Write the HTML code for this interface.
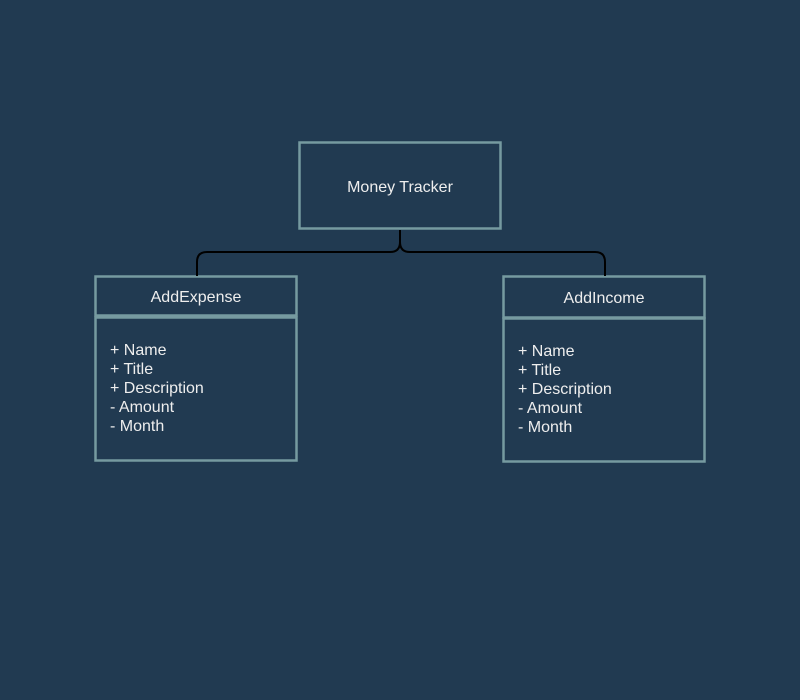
<!DOCTYPE html>
<html><head><style>html,body{margin:0;padding:0;background:#213a51;}svg{display:block}text{font-family:"Liberation Sans",Arial,sans-serif;}</style></head>
<body>
<svg width="800" height="700" xmlns="http://www.w3.org/2000/svg">
<rect x="0" y="0" width="800" height="700" fill="#213a51"/>
<g fill="none" stroke="#769aa0" stroke-width="2.5">
<rect x="299.5" y="142.5" width="201" height="86"/>
<rect x="95.5" y="276.5" width="201" height="39"/>
<rect x="95.5" y="317.5" width="201" height="143"/>
<rect x="503.5" y="276.5" width="201" height="41"/>
<rect x="503.5" y="318.5" width="201" height="143"/>
</g>
<path d="M400 230 V242 Q400 252 390 252 H207 Q197 252 197 262 V276 M400 242 Q400 252 410 252 H595 Q605 252 605 262 V276" fill="none" stroke="#000" stroke-width="2"/>
<g font-size="16" fill="#eeeeee">
<text x="400" y="192" text-anchor="middle">Money Tracker</text>
<text x="196" y="302" text-anchor="middle">AddExpense</text>
<text x="604" y="303" text-anchor="middle">AddIncome</text>
<text x="110" y="355">+ Name</text>
<text x="110" y="374">+ Title</text>
<text x="110" y="393">+ Description</text>
<text x="110" y="412">- Amount</text>
<text x="110" y="431">- Month</text>
<text x="518" y="356">+ Name</text>
<text x="518" y="375">+ Title</text>
<text x="518" y="394">+ Description</text>
<text x="518" y="413">- Amount</text>
<text x="518" y="432">- Month</text>
</g>
</svg>
</body></html>
